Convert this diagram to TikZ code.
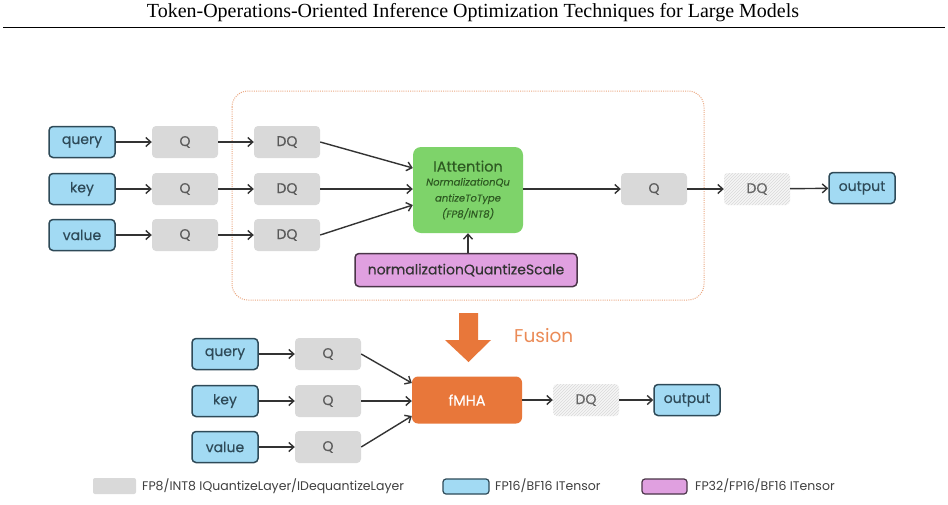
\documentclass[tikz,border=0pt]{standalone}
\usepackage{fontspec}
\setmainfont{Liberation Serif}
\newfontfamily\dfont{Poppins}
\newfontfamily\dfontm{Poppins}[FakeBold=0.3]
\newfontfamily\dfontb{Poppins}[FakeBold=0.6]
\usetikzlibrary{arrows.meta,patterns,calc}
\definecolor{tblue}{HTML}{A2DAF3}
\definecolor{tblueb}{HTML}{2E4A58}
\definecolor{tgray}{HTML}{D9D9D9}
\definecolor{tgreen}{HTML}{7ED36A}
\definecolor{tgreent}{HTML}{2E5A22}
\definecolor{tpink}{HTML}{E0A0E0}
\definecolor{tpinkb}{HTML}{4A3548}
\definecolor{torange}{HTML}{E8773A}
\definecolor{tdot}{HTML}{EBA882}
\definecolor{tarrow}{HTML}{333333}
\newcommand{\smit}{\dfontm\itshape\fontsize{10}{11}\selectfont}
\begin{document}
\begin{tikzpicture}[x=1pt,y=-1pt,
  dfs/.style={font=\dfontm\fontsize{#1}{#1}\selectfont},
  tensor/.style={draw=tblueb, fill=tblue, line width=1.5pt, rounded corners=4pt,
    minimum width=66pt, minimum height=31pt, inner sep=0pt, dfs=14, text=tblueb},
  qbox/.style={fill=tgray, rounded corners=4pt, minimum width=66pt, minimum height=32pt,
    inner sep=0pt, dfs=14, text=black!65},
  hbox/.style={fill=gray!7, rounded corners=4pt, minimum width=66pt, minimum height=32pt,
    inner sep=0pt, dfs=14, text=black!60,
    postaction={pattern=north east lines, pattern color=gray!30}},
  arr/.style={-{Straight Barb[length=5pt,width=9pt]}, line width=1.4pt, draw=tarrow},
  legtext/.style={anchor=west, inner sep=0pt, font=\dfont\fontsize{12.5}{13}\selectfont, text=black!75}
]
\useasboundingbox (0,0) rectangle (948,504);
\fill[white] (0,0) rectangle (948,504);

% header
\node[font=\fontsize{20}{24}\selectfont] (title) at (473,13) {Token-Operations-Oriented Inference Optimization Techniques for Large Models};
\draw[line width=1pt] (3,27) -- (945,27);

% dotted region
\draw[tdot, line width=1pt, dash pattern=on 1pt off 1.2pt, rounded corners=16pt] (232,91) rectangle (704,300);

% top row
\node[tensor] (tq) at (82,142) {query};
\node[tensor] (tk) at (82,189) {key};
\node[tensor] (tv) at (82,235) {value};
\node[qbox] (q1) at (185,142) {Q};
\node[qbox] (q2) at (185,189) {Q};
\node[qbox] (q3) at (185,235) {Q};
\node[qbox] (d1) at (287,142) {DQ};
\node[qbox] (d2) at (287,189) {DQ};
\node[qbox] (d3) at (287,235) {DQ};
\node[fill=tgreen, rounded corners=8pt, minimum width=110pt, minimum height=86pt,
  inner sep=0pt, align=center, text=tgreent, font=\dfontm\fontsize{14.5}{16}\selectfont] (att) at (468,190)
  {IAttention\\[-2pt] \smit NormalizationQu\\ \smit antizeToType\\ \smit (FP8/INT8)};
\node[fill=tpink, draw=tpinkb, line width=1.5pt, rounded corners=4pt, minimum width=222pt,
  minimum height=33pt, inner sep=0pt, dfs=14, text=black!80] (scale) at (466,270) {normalizationQuantizeScale};
\node[qbox] (q4) at (654,189) {Q};
\node[hbox] (d4) at (757,189) {DQ};
\node[tensor] (out1) at (862,188) {output};

\draw[arr] (tq) -- (q1);
\draw[arr] (tk) -- (q2);
\draw[arr] (tv) -- (q3);
\draw[arr] (q1) -- (d1);
\draw[arr] (q2) -- (d2);
\draw[arr] (q3) -- (d3);
\draw[arr] (d1.east) -- ($(att.west)+(0,-22)$);
\draw[arr] (d2.east) -- (att.west |- d2.east);
\draw[arr] (d3.east) -- ($(att.west)+(0,15)$);
\draw[arr] (att.south |- scale.north) -- (att.south);
\draw[arr] (att.east |- q4.west) -- (q4.west);
\draw[arr] (q4) -- (d4);
\draw[arr] (d4) -- (out1);

% fusion arrow
\fill[torange] (459,313) -- (478,313) -- (478,340) -- (491,340) -- (468.5,362) -- (445,340) -- (459,340) -- cycle;
\node[font=\dfont\fontsize{18.5}{19}\selectfont, text=torange!85, anchor=west, inner sep=0pt] (fusion) at (514,336) {Fusion};

% bottom row
\node[tensor] (bq) at (225,354) {query};
\node[tensor] (bk) at (225,401) {key};
\node[tensor] (bv) at (225,447) {value};
\node[qbox] (bq1) at (328,354) {Q};
\node[qbox] (bq2) at (328,401) {Q};
\node[qbox] (bq3) at (328,447) {Q};
\node[fill=torange, rounded corners=6pt, minimum width=110pt, minimum height=47pt,
  inner sep=0pt, font=\dfontb\fontsize{14.5}{15}\selectfont, text=white] (fmha) at (467,400) {fMHA};
\node[hbox] (bd) at (586,400) {DQ};
\node[tensor] (out2) at (687,400) {output};

\draw[arr] (bq) -- (bq1);
\draw[arr] (bk) -- (bq2);
\draw[arr] (bv) -- (bq3);
\draw[arr] (bq1.east) -- ($(fmha.west)+(0,-17)$);
\draw[arr] (bq2.east) -- (fmha.west |- bq2.east);
\draw[arr] (bq3.east) -- ($(fmha.west)+(0,16)$);
\draw[arr] (fmha) -- (bd);
\draw[arr] (bd) -- (out2);

% legend
\fill[tgray, rounded corners=2pt] (93,478) rectangle (136,494);
\node[legtext] (l1) at (142,486) {FP8/INT8 IQuantizeLayer/IDequantizeLayer};
\draw[fill=tblue, draw=tblueb, line width=1.2pt, rounded corners=3pt] (443,479) rectangle (489,494);
\node[legtext] (l2) at (495,486) {FP16/BF16 ITensor};
\draw[fill=tpink, draw=tpinkb, line width=1.2pt, rounded corners=3pt] (642,479) rectangle (687,494);
\node[legtext] (l3) at (695,486) {FP32/FP16/BF16 ITensor};
\end{tikzpicture}
\end{document}
